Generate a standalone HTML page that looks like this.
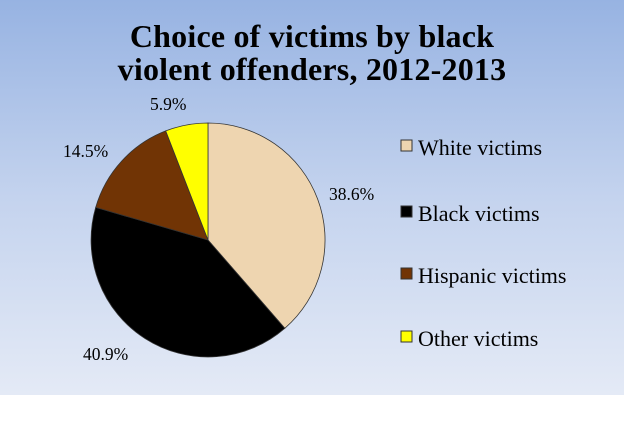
<!DOCTYPE html>
<html><head><style>
body{margin:0;width:624px;height:424px;background:#fff;overflow:hidden}
.bg{position:absolute;left:0;top:0;width:624px;height:395px;background:linear-gradient(#97b3e2,#c4d3ee 50%,#e4eaf6)}
svg{position:absolute;left:0;top:0}
text{font-family:"Liberation Serif",serif}
</style></head><body>
<div class="bg"></div>
<svg width="624" height="424">
<text x="312" y="47" text-anchor="middle" font-size="32" font-weight="bold" letter-spacing="0.2">Choice of victims by black</text>
<text x="312" y="80" text-anchor="middle" font-size="32" font-weight="bold" letter-spacing="0.2">violent offenders, 2012-2013</text>
<g stroke="#333" stroke-width="0.8">
<path d="M208,240 L208,123 A117,117 0 0 1 284.8,328.3 Z" fill="#eed5b0"/>
<path d="M208,240 L284.8,328.3 A117,117 0 0 1 95.7,207.4 Z" fill="#000"/>
<path d="M208,240 L95.7,207.4 A117,117 0 0 1 165.7,130.9 Z" fill="#713405"/>
<path d="M208,240 L165.7,130.9 A117,117 0 0 1 208,123 Z" fill="#ffff00"/>
</g>
<g font-size="17.5">
<text x="150" y="110">5.9%</text>
<text x="63" y="157">14.5%</text>
<text x="329" y="200">38.6%</text>
<text x="83" y="360">40.9%</text>
</g>
<g font-size="22">
<rect x="401" y="140" width="11" height="11" fill="#eed5b0" stroke="#333"/>
<text x="418" y="155">White victims</text>
<rect x="401" y="206" width="11" height="11" fill="#000" stroke="#333"/>
<text x="418" y="221">Black victims</text>
<rect x="401" y="268" width="11" height="11" fill="#713405" stroke="#333"/>
<text x="418" y="283">Hispanic victims</text>
<rect x="401" y="331" width="11" height="11" fill="#ffff00" stroke="#333"/>
<text x="418" y="346">Other victims</text>
</g>
</svg>
</body></html>
